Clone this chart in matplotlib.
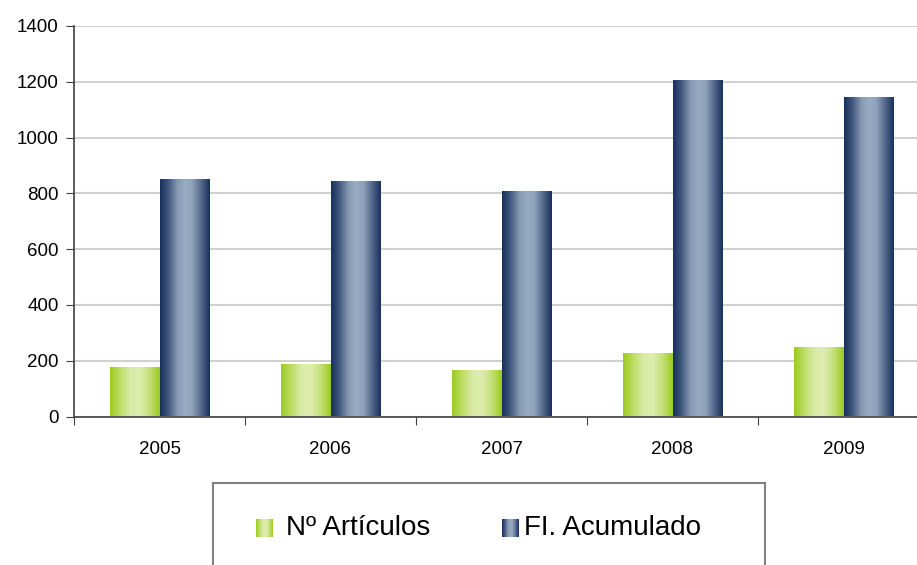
import numpy as np
import matplotlib
matplotlib.use("Agg")
import matplotlib.pyplot as plt
from matplotlib.colors import LinearSegmentedColormap

years = ["2005", "2006", "2007", "2008", "2009"]
articulos = [177, 190, 165, 227, 248]
fi_acumulado = [850, 843, 808, 1206, 1145]
series_names = ["Nº Artículos", "FI. Acumulado"]
yticks = [0, 200, 400, 600, 800, 1000, 1200, 1400]

plt.rcParams['font.family'] = ['Liberation Sans', 'DejaVu Sans']

green_cmap = LinearSegmentedColormap.from_list("g", [
    (0.0, "#9acb1c"), (0.2, "#bcdc63"), (0.4, "#d9eaa4"), (0.6, "#deedae"),
    (0.8, "#c4df78"), (1.0, "#9acb1c")])
navy_cmap = LinearSegmentedColormap.from_list("n", [
    (0.0, "#17305c"), (0.15, "#3c5279"), (0.35, "#8599b3"), (0.5, "#97abc1"),
    (0.65, "#8ea2ba"), (0.85, "#4b6085"), (1.0, "#17305c")])
grad = np.linspace(0, 1, 256).reshape(1, -1)

W, H = 917, 565
fig = plt.figure(figsize=(W / 100, H / 100), dpi=100)
ax = fig.add_axes([74 / W, (H - 416.5) / H, 855 / W, 390.5 / H])

x = np.arange(len(years))
bw = 0.29

def gradient_bars(xs, vals, cmap):
    bars = ax.bar(xs, vals, width=bw, align='edge', color='none', edgecolor='none', zorder=3)
    for b in bars:
        x0, y0 = b.get_x(), b.get_y()
        im = ax.imshow(grad, cmap=cmap, aspect='auto', interpolation='bilinear',
                       extent=[x0, x0 + b.get_width(), y0, y0 + b.get_height()], zorder=3)
        im.set_clip_path(b)

gradient_bars(x - bw, articulos, green_cmap)
gradient_bars(x, fi_acumulado, navy_cmap)

tick_fs = 13.5
ax.set_xlim(-0.5, len(years) - 0.5)
ax.set_ylim(0, 1400)
ax.set_yticks(yticks)
ax.set_yticklabels([str(v) for v in yticks], fontsize=tick_fs)
ax.set_xticks(np.arange(len(years) + 1) - 0.5, minor=False)
ax.set_xticklabels([""] * (len(years) + 1))
ax.set_xticks(x, minor=True)
ax.set_xticklabels(years, minor=True, fontsize=tick_fs)
ax.tick_params(axis='x', which='minor', length=0, pad=18)
ax.tick_params(axis='x', which='major', length=6, direction='out', color='#404040')
ax.tick_params(axis='y', length=6, direction='out', color='#404040', pad=5)
ax.yaxis.grid(True, color='#d0d0d0', linewidth=1.5, zorder=0)
ax.set_axisbelow(True)
for s in ['top', 'right']:
    ax.spines[s].set_visible(False)
for s in ['left', 'bottom']:
    ax.spines[s].set_color('#404040')
    ax.spines[s].set_linewidth(1.2)

# legend box
lax = fig.add_axes([213 / W, -0.01, (765 - 213) / W, (H - 483) / H + 0.01])
lax.set_xticks([])
lax.set_yticks([])
for s in lax.spines.values():
    s.set_color('#808080')
    s.set_linewidth(1.5)
lax.imshow(grad, cmap=green_cmap, aspect='auto', extent=[256, 273, 537, 519])
lax.imshow(grad, cmap=navy_cmap, aspect='auto', extent=[502, 519, 537, 519])
lax.set_xlim(213, 765)
lax.set_ylim(H + 0.01 * H, 483)
lax.text(286, 528, series_names[0], fontsize=20, va='center', ha='left')
lax.text(524, 528, series_names[1], fontsize=20, va='center', ha='left')

fig.savefig("out.png", dpi=100)
